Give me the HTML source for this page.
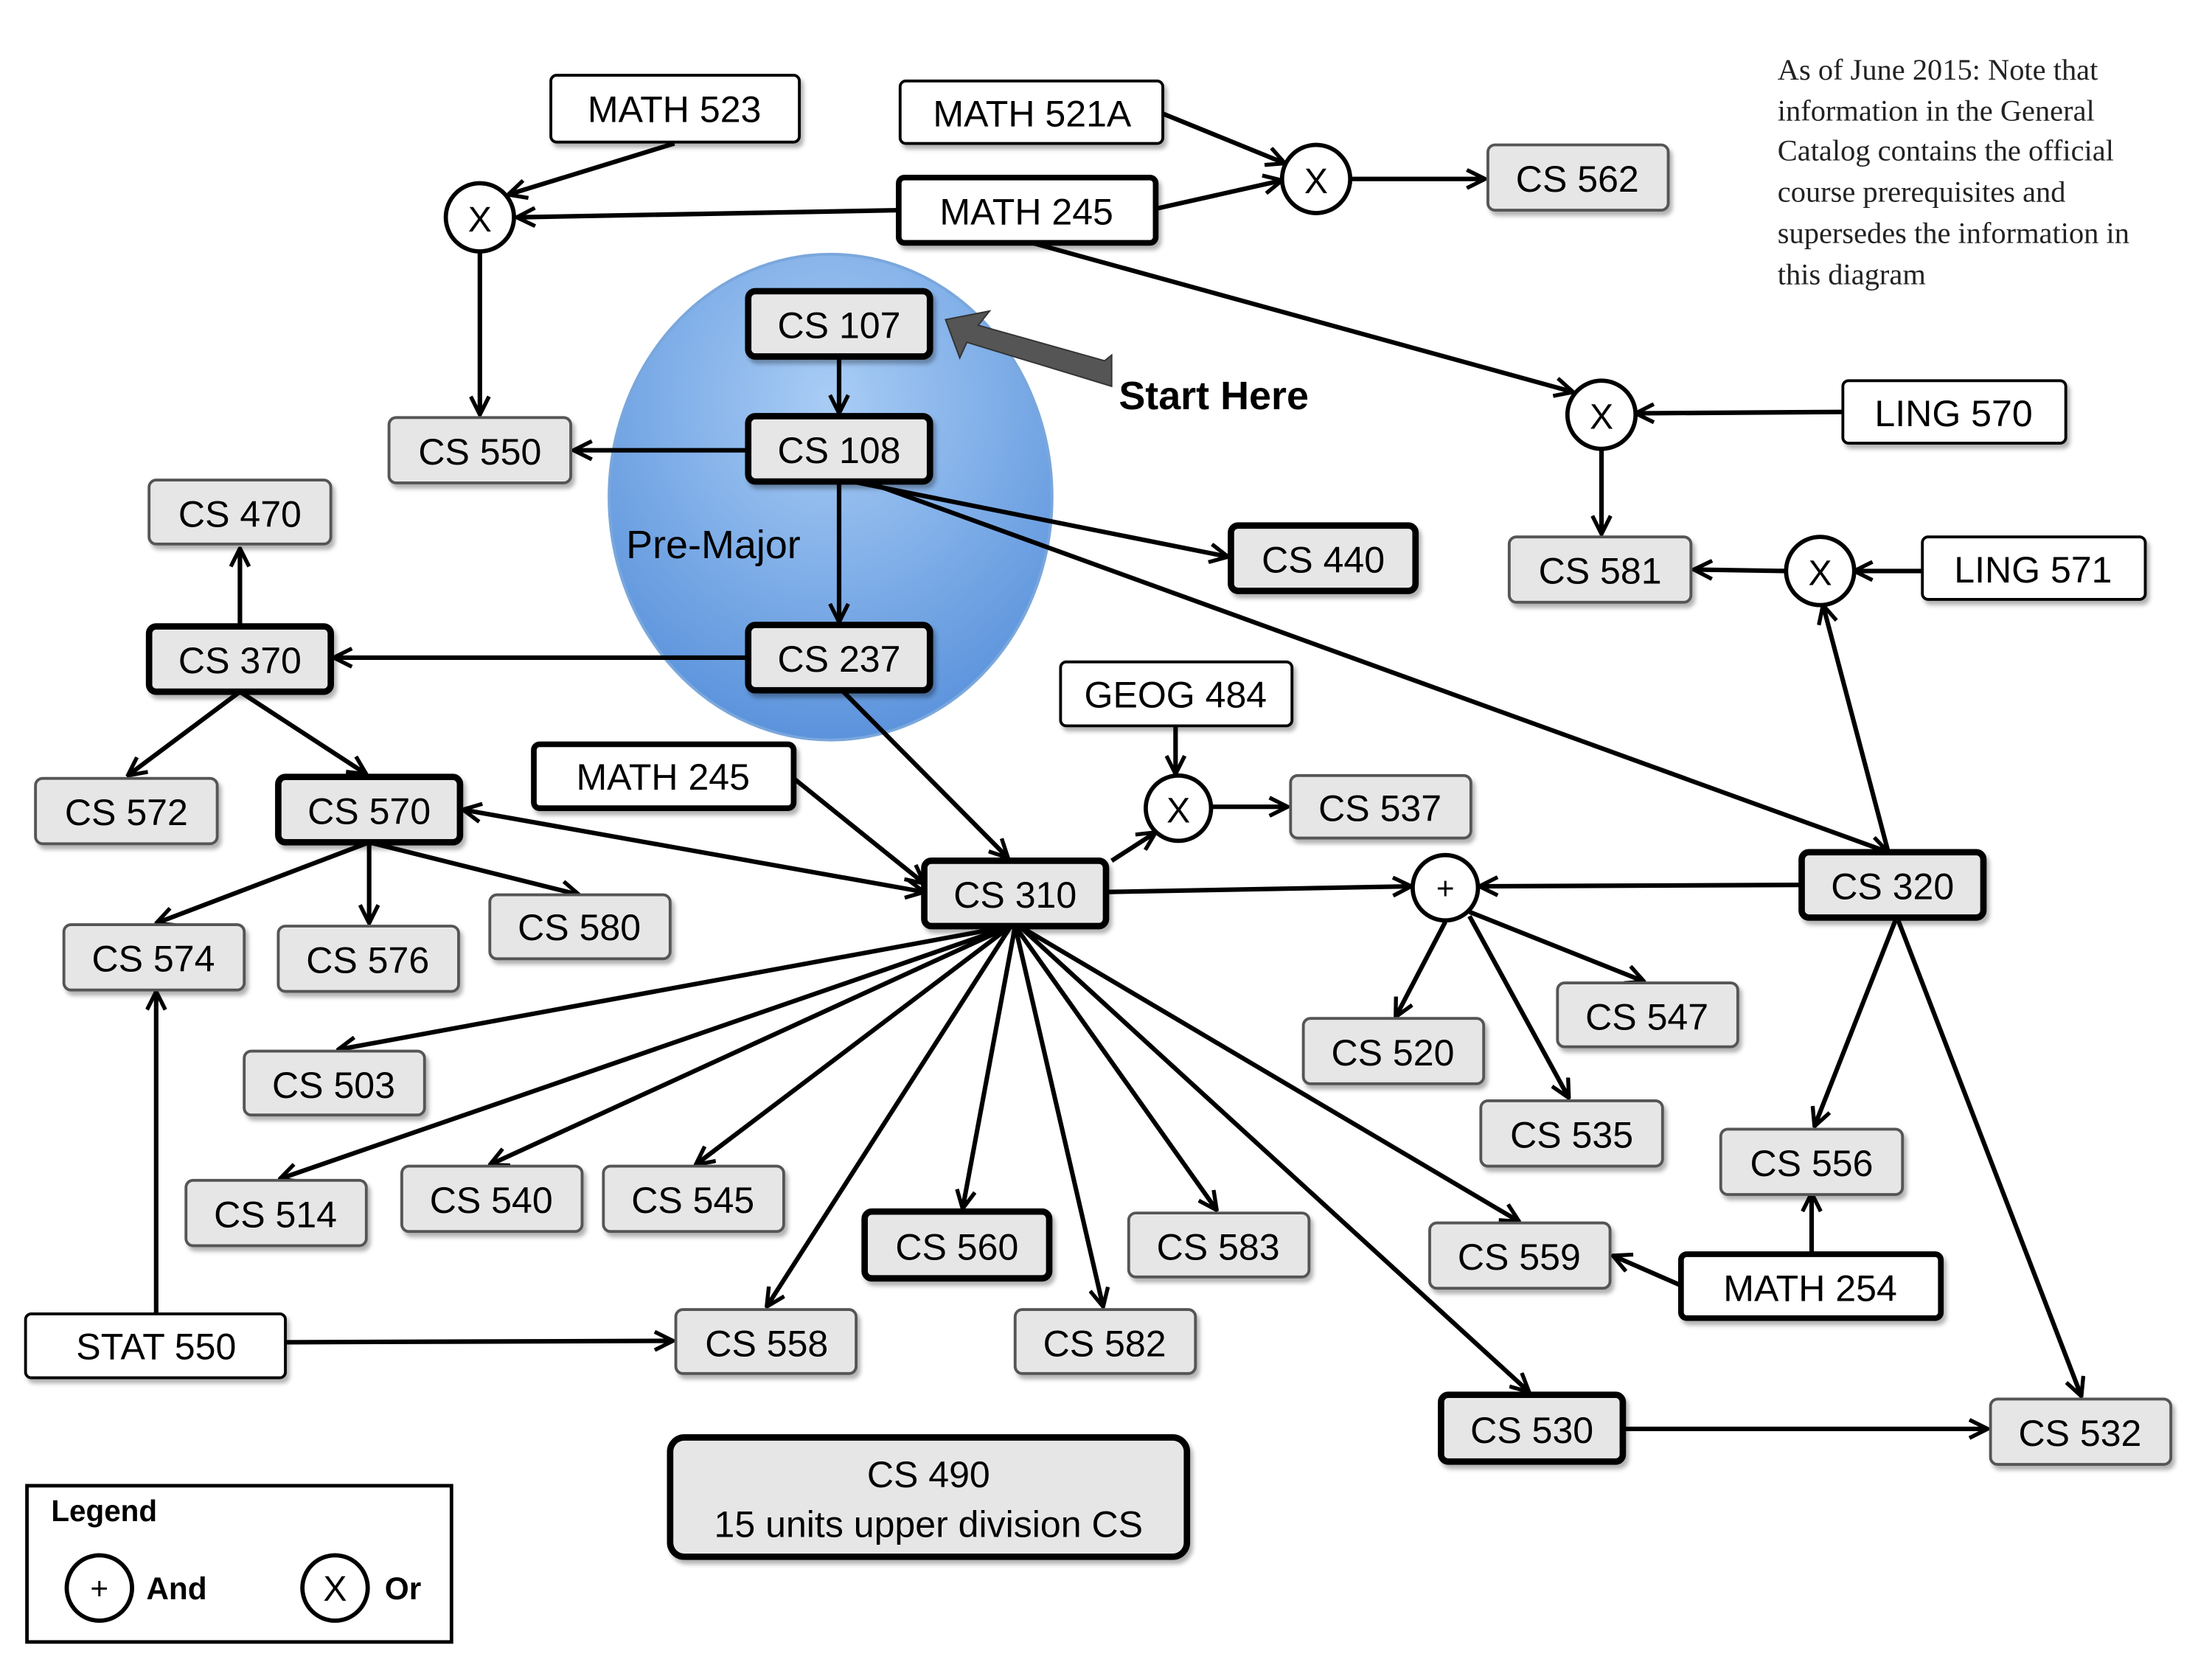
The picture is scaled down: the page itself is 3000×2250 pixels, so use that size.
<!DOCTYPE html>
<html><head><meta charset="utf-8"><style>
html,body{margin:0;padding:0;background:#fff;}
svg{display:block;}
text{font-family:"Liberation Sans","DejaVu Sans",sans-serif;}
</style></head><body>
<svg width="3000" height="2250" viewBox="0 0 1558 1168" preserveAspectRatio="none" xmlns="http://www.w3.org/2000/svg">
<defs>
<marker id="a" viewBox="0 0 14 14" refX="13" refY="7" markerWidth="15" markerHeight="15" markerUnits="userSpaceOnUse" orient="auto-start-reverse">
<path d="M1,1 L13,7 L1,13" fill="none" stroke="#000" stroke-width="2.6"/>
</marker>
<radialGradient id="g" cx="50%" cy="30%" r="70%">
<stop offset="0" stop-color="#a9cdf5"/><stop offset="1" stop-color="#5b93dc"/>
</radialGradient>
<filter id="s" x="-10%" y="-10%" width="130%" height="140%"><feDropShadow dx="2" dy="3" stdDeviation="1.5" flood-color="#000" flood-opacity="0.3"/></filter>
</defs>
<ellipse cx="585" cy="350" rx="156" ry="171" fill="url(#g)" stroke="#7aa7dc" stroke-width="2"/>
<text x="441" y="393" font-size="28">Pre-Major</text>
<g stroke="#000" stroke-width="3.2" fill="none" marker-end="url(#a)">
<line x1="475" y1="101" x2="358" y2="137"/>
<line x1="633" y1="148" x2="364" y2="153"/>
<line x1="338" y1="177" x2="338" y2="292"/>
<line x1="819" y1="80" x2="905" y2="115"/>
<line x1="814" y1="147" x2="903" y2="127"/>
<line x1="951" y1="126" x2="1046" y2="126"/>
<line x1="727" y1="171" x2="1108" y2="276"/>
<line x1="1298" y1="290" x2="1152" y2="291"/>
<line x1="1128" y1="316" x2="1128" y2="376"/>
<line x1="1354" y1="402" x2="1306" y2="402"/>
<line x1="1258" y1="402" x2="1193" y2="401"/>
<line x1="1330" y1="600" x2="1284" y2="426"/>
<line x1="591" y1="251" x2="591" y2="291"/>
<line x1="527" y1="317" x2="404" y2="317"/>
<line x1="591" y1="339" x2="591" y2="438"/>
<line x1="600" y1="339" x2="865" y2="392"/>
<line x1="610" y1="339" x2="1330" y2="600"/>
<line x1="527" y1="463" x2="235" y2="463"/>
<line x1="169" y1="441" x2="169" y2="386"/>
<line x1="169" y1="487" x2="90" y2="546"/>
<line x1="169" y1="487" x2="258" y2="545"/>
<line x1="593" y1="486" x2="710" y2="604"/>
<line x1="559" y1="548" x2="651" y2="622"/>
<line x1="651" y1="628" x2="326" y2="570" marker-start="url(#a)"/>
<line x1="260" y1="593" x2="110" y2="650"/>
<line x1="260" y1="593" x2="260" y2="650"/>
<line x1="260" y1="593" x2="408" y2="630"/>
<line x1="828" y1="511" x2="828" y2="545"/>
<line x1="853" y1="568" x2="907" y2="568"/>
<line x1="783" y1="606" x2="814" y2="586"/>
<line x1="779" y1="628" x2="994" y2="624"/>
<line x1="1269" y1="623" x2="1042" y2="624"/>
<line x1="1018" y1="649" x2="983" y2="716"/>
<line x1="1035" y1="642" x2="1158" y2="691"/>
<line x1="1035" y1="645" x2="1105" y2="773"/>
<line x1="1335" y1="648" x2="1278" y2="793"/>
<line x1="1337" y1="648" x2="1466" y2="983"/>
<line x1="1276" y1="883" x2="1276" y2="840"/>
<line x1="1184" y1="905" x2="1136" y2="884"/>
<line x1="712" y1="652" x2="238" y2="739"/>
<line x1="712" y1="652" x2="197" y2="830"/>
<line x1="712" y1="652" x2="345" y2="820"/>
<line x1="712" y1="652" x2="490" y2="820"/>
<line x1="712" y1="652" x2="540" y2="920"/>
<line x1="715" y1="652" x2="678" y2="851"/>
<line x1="715" y1="652" x2="777" y2="920"/>
<line x1="715" y1="652" x2="857" y2="852"/>
<line x1="718" y1="652" x2="1070" y2="860"/>
<line x1="718" y1="652" x2="1077" y2="980"/>
<line x1="110" y1="925" x2="110" y2="698"/>
<line x1="201" y1="945" x2="474" y2="944"/>
<line x1="1143" y1="1006" x2="1400" y2="1006"/>
</g>
<polygon points="783,250 783,272 770,268 681,241 676,252 666,225 697,219 689,229 778,254" fill="#555" stroke="#333" stroke-width="1"/>
<text x="788" y="288" font-size="28" font-weight="bold">Start Here</text>
<g font-size="25" text-anchor="middle">
<g fill="#fff" stroke="#000" stroke-width="3">
<circle cx="338" cy="153" r="24"/><circle cx="927" cy="126" r="24"/><circle cx="1128" cy="292" r="24"/>
<circle cx="1282" cy="402" r="24"/><circle cx="830" cy="569" r="23"/><circle cx="1018" cy="625" r="23"/>
</g>
<text x="338" y="163">X</text><text x="927" y="136">X</text><text x="1128" y="302">X</text>
<text x="1282" y="412">X</text><text x="830" y="579">X</text><text x="1018" y="633" font-size="22">+</text>
</g>
<g font-size="26" text-anchor="middle" filter="url(#s)">
<g fill="#fff" stroke="#000" stroke-width="2">
<rect x="388" y="53" width="175" height="47" rx="4"/>
<rect x="634" y="57" width="185" height="44" rx="4"/>
<rect x="1298" y="268" width="157" height="44" rx="4"/>
<rect x="1354" y="378" width="157" height="44" rx="4"/>
<rect x="747" y="466" width="163" height="45" rx="4"/>
<rect x="18" y="925" width="183" height="45" rx="4"/>
</g>
<g fill="#fff" stroke="#000" stroke-width="4">
<rect x="633" y="125" width="181" height="46" rx="4"/>
<rect x="376" y="524" width="183" height="45" rx="4"/>
<rect x="1184" y="883" width="183" height="45" rx="4"/>
</g>
<g fill="#e6e6e6" stroke="#555" stroke-width="2">
<rect x="1048" y="102" width="127" height="46" rx="5"/>
<rect x="274" y="294" width="128" height="46" rx="5"/>
<rect x="1063" y="378" width="128" height="46" rx="5"/>
<rect x="105" y="338" width="128" height="45" rx="5"/>
<rect x="909" y="546" width="127" height="44" rx="5"/>
<rect x="25" y="548" width="128" height="46" rx="5"/>
<rect x="45" y="651" width="127" height="46" rx="5"/>
<rect x="196" y="652" width="127" height="46" rx="5"/>
<rect x="345" y="630" width="127" height="45" rx="5"/>
<rect x="1097" y="692" width="127" height="45" rx="5"/>
<rect x="918" y="717" width="127" height="46" rx="5"/>
<rect x="1043" y="775" width="128" height="46" rx="5"/>
<rect x="1212" y="795" width="128" height="46" rx="5"/>
<rect x="172" y="740" width="127" height="45" rx="5"/>
<rect x="131" y="831" width="127" height="46" rx="5"/>
<rect x="283" y="821" width="127" height="46" rx="5"/>
<rect x="425" y="821" width="127" height="46" rx="5"/>
<rect x="795" y="854" width="127" height="45" rx="5"/>
<rect x="1007" y="861" width="127" height="46" rx="5"/>
<rect x="476" y="922" width="127" height="45" rx="5"/>
<rect x="715" y="922" width="127" height="45" rx="5"/>
<rect x="1402" y="985" width="127" height="46" rx="5"/>
</g>
<g fill="#e6e6e6" stroke="#000" stroke-width="4.5">
<rect x="527" y="205" width="128" height="46" rx="5"/>
<rect x="527" y="293" width="128" height="46" rx="5"/>
<rect x="867" y="370" width="130" height="46" rx="5"/>
<rect x="105" y="441" width="128" height="46" rx="5"/>
<rect x="527" y="440" width="128" height="46" rx="5"/>
<rect x="196" y="547" width="128" height="46" rx="5"/>
<rect x="651" y="606" width="128" height="46" rx="5"/>
<rect x="1269" y="600" width="128" height="46" rx="5"/>
<rect x="609" y="853" width="130" height="47" rx="5"/>
<rect x="1015" y="982" width="128" height="47" rx="5"/>
<rect x="472" y="1012" width="364" height="84" rx="10"/>
</g>
</g>
<g font-size="26" text-anchor="middle">
<text x="475" y="86">MATH 523</text>
<text x="727" y="89">MATH 521A</text>
<text x="723" y="158">MATH 245</text>
<text x="1111" y="135">CS 562</text>
<text x="591" y="238">CS 107</text>
<text x="591" y="326">CS 108</text>
<text x="338" y="327">CS 550</text>
<text x="932" y="403">CS 440</text>
<text x="1376" y="300">LING 570</text>
<text x="1127" y="411">CS 581</text>
<text x="1432" y="410">LING 571</text>
<text x="169" y="371">CS 470</text>
<text x="169" y="474">CS 370</text>
<text x="591" y="473">CS 237</text>
<text x="828" y="498">GEOG 484</text>
<text x="972" y="578">CS 537</text>
<text x="89" y="581">CS 572</text>
<text x="260" y="580">CS 570</text>
<text x="467" y="556">MATH 245</text>
<text x="715" y="639">CS 310</text>
<text x="1333" y="633">CS 320</text>
<text x="108" y="684">CS 574</text>
<text x="259" y="685">CS 576</text>
<text x="408" y="662">CS 580</text>
<text x="1160" y="725">CS 547</text>
<text x="981" y="750">CS 520</text>
<text x="1107" y="808">CS 535</text>
<text x="1276" y="828">CS 556</text>
<text x="235" y="773">CS 503</text>
<text x="194" y="864">CS 514</text>
<text x="346" y="854">CS 540</text>
<text x="488" y="854">CS 545</text>
<text x="674" y="887">CS 560</text>
<text x="858" y="887">CS 583</text>
<text x="1070" y="894">CS 559</text>
<text x="1275" y="916">MATH 254</text>
<text x="110" y="957">STAT 550</text>
<text x="540" y="955">CS 558</text>
<text x="778" y="955">CS 582</text>
<text x="1079" y="1016">CS 530</text>
<text x="1465" y="1018">CS 532</text>
<text x="654" y="1047">CS 490</text>
<text x="654" y="1082">15 units upper division CS</text>
</g>
<g font-size="21" fill="#222">
<text x="1252" y="56" style="font-family:'Liberation Serif',serif">As of June 2015: Note that</text>
<text x="1252" y="85" style="font-family:'Liberation Serif',serif">information in the General</text>
<text x="1252" y="113" style="font-family:'Liberation Serif',serif">Catalog contains the official</text>
<text x="1252" y="142" style="font-family:'Liberation Serif',serif">course prerequisites and</text>
<text x="1252" y="171" style="font-family:'Liberation Serif',serif">supersedes the information in</text>
<text x="1252" y="200" style="font-family:'Liberation Serif',serif">this diagram</text>
</g>
<rect x="19" y="1046" width="299" height="110" fill="#fff" stroke="#000" stroke-width="2.5"/>
<text x="36" y="1071" font-size="21" font-weight="bold">Legend</text>
<circle cx="70" cy="1118" r="23" fill="#fff" stroke="#000" stroke-width="3"/>
<text x="70" y="1126" font-size="22" text-anchor="middle">+</text>
<text x="103" y="1126" font-size="22" font-weight="bold">And</text>
<circle cx="236" cy="1118" r="23" fill="#fff" stroke="#000" stroke-width="3"/>
<text x="236" y="1127" font-size="25" text-anchor="middle">X</text>
<text x="271" y="1126" font-size="22" font-weight="bold">Or</text>
</svg>
</body></html>
